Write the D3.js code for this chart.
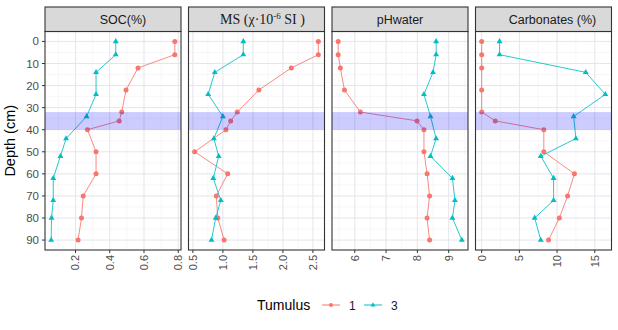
<!DOCTYPE html>
<html>
<head>
<meta charset="utf-8">
<script src="https://cdn.jsdelivr.net/npm/d3@7"></script>
<style>
  body { margin: 0; background: #fff; }
  text { font-family: "Liberation Sans", Arial, sans-serif; }
</style>
</head>
<body>
<div id="canvas"></div>
<script>
"use strict"

/* Depths (cm) sampled in each tumulus */
let depth1 = [0, 6, 12, 22, 32, 36, 40, 50, 60, 70, 80, 90];
let depth3 = [0, 6, 14, 24, 34, 44, 52, 62, 72, 80, 90];

let soc1 = [0.78, 0.78, 0.565, 0.495, 0.47, 0.455, 0.27, 0.32, 0.32, 0.245, 0.235, 0.215];
let soc3 = [0.435, 0.435, 0.32, 0.32, 0.265, 0.145, 0.112, 0.07, 0.07, 0.06, 0.058];

let ms1 = [2.59, 2.59, 2.14, 1.6, 1.24, 1.13, 1.05, 0.53, 1.08, 0.89, 0.915, 1.02];
let ms3 = [1.34, 1.34, 0.865, 0.755, 1.0, 0.85, 0.93, 0.84, 0.965, 0.88, 0.81];

let ph1 = [5.47, 5.47, 5.54, 5.67, 6.18, 7.99, 8.21, 8.21, 8.31, 8.39, 8.31, 8.39];
let ph3 = [8.6, 8.6, 8.5, 8.21, 8.42, 8.6, 8.42, 9.12, 9.2, 9.12, 9.42];

let carb1 = [0, 0, 0, 0, 0, 1.8, 8.24, 8.24, 12.3, 11.4, 10.3, 8.87];
let carb3 = [2.37, 2.37, 13.8, 16.4, 12.2, 12.5, 7.84, 9.54, 9.54, 7.03, 7.84];

/* Tick labels */
let depthTicks = [0, 10, 20, 30, 40, 50, 60, 70, 80, 90];
let socTicks = [0.2, 0.4, 0.6, 0.8];
let msTicks = [0.5, 1.0, 1.5, 2.0, 2.5];
let phTicks = [6, 7, 8, 9];
let carbTicks = [0, 5, 10, 15];

let tumuli = ["1", "3"];
let bandDepth = [32, 40]; // highlighted layer

/* Drawing configuration */
let svgWidth = 618;
let svgHeight = 330;
let panelTop = 31.5, panelBottom = 250;
let panelLeft0 = 45, panelWidth = 136, panelStep = 143.5;
let stripTop = 7;

let colorScale = d3.scaleOrdinal()
    .domain(tumuli)
    .range(["#F8766D", "#00BFC4"]);

let svg = d3.select("#canvas")
    .append("svg")
    .attr("width", svgWidth)
    .attr("height", svgHeight);

/* ggplot-like 5% expansion */
function expand(ext) {
    let pad = (ext[1] - ext[0]) * 0.05;
    return [ext[0] - pad, ext[1] + pad];
}

let yScale = d3.scaleLinear()
    .domain(expand([0, 90]))
    .range([panelTop, panelBottom]);

let panels = [
    { name: "SOC(%)", t1: soc1, t3: soc3, ticks: socTicks, fmt: d3.format(".1f"), nudge: 10 },
    { name: "MS", t1: ms1, t3: ms3, ticks: msTicks, fmt: d3.format(".1f"), nudge: 6 },
    { name: "pHwater", t1: ph1, t3: ph3, ticks: phTicks, fmt: d3.format("d"), nudge: 0 },
    { name: "Carbonates (%)", t1: carb1, t3: carb3, ticks: carbTicks, fmt: d3.format("d"), nudge: 9 }
];

// minor breaks halfway between major ones
function minorBreaks(ticks, domain) {
    let step = ticks[1] - ticks[0];
    let out = [];
    for (let i = -1; i < ticks.length; i++) {
        let m = ticks[0] + step * (i + 0.5);
        if (m > domain[0] && m < domain[1]) out.push(m);
    }
    return out;
}

let yMinor = minorBreaks(depthTicks, yScale.domain());

panels.forEach((p, i) => {
    let x0 = panelLeft0 + i * panelStep;
    let x1 = x0 + panelWidth;
    let all = p.t1.concat(p.t3);
    let xScale = d3.scaleLinear()
        .domain(expand(d3.extent(all)))
        .range([x0, x1]);

    let g = svg.append("g");

    // panel background + grid
    g.append("rect")
        .attr("x", x0).attr("y", panelTop)
        .attr("width", panelWidth).attr("height", panelBottom - panelTop)
        .attr("fill", "white");

    let xMinor = minorBreaks(p.ticks, xScale.domain());
    g.selectAll("line.xminor")
        .data(xMinor)
        .join("line")
        .attr("x1", d => xScale(d)).attr("x2", d => xScale(d))
        .attr("y1", panelTop).attr("y2", panelBottom)
        .attr("stroke", "#f1f1f6").attr("stroke-width", 0.6);
    g.selectAll("line.yminor")
        .data(yMinor)
        .join("line")
        .attr("x1", x0).attr("x2", x1)
        .attr("y1", d => yScale(d)).attr("y2", d => yScale(d))
        .attr("stroke", "#f1f1f6").attr("stroke-width", 0.6);
    g.selectAll("line.xmajor")
        .data(p.ticks)
        .join("line")
        .attr("x1", d => xScale(d)).attr("x2", d => xScale(d))
        .attr("y1", panelTop).attr("y2", panelBottom)
        .attr("stroke", "#e5e5ec").attr("stroke-width", 1);
    g.selectAll("line.ymajor")
        .data(depthTicks)
        .join("line")
        .attr("x1", x0).attr("x2", x1)
        .attr("y1", d => yScale(d)).attr("y2", d => yScale(d))
        .attr("stroke", "#e5e5ec").attr("stroke-width", 1);

    // profiles
    let series = [
        { t: "1", depth: depth1, vals: p.t1 },
        { t: "3", depth: depth3, vals: p.t3 }
    ];
    series.forEach(s => {
        let pts = s.depth.map((d, k) => [xScale(s.vals[k]), yScale(d)]);
        g.append("path")
            .attr("d", d3.line()(pts))
            .attr("fill", "none")
            .attr("stroke", colorScale(s.t))
            .attr("stroke-opacity", 0.85)
            .attr("stroke-width", 1);
        if (s.t === "1") {
            g.selectAll(null)
                .data(pts)
                .join("circle")
                .attr("cx", d => d[0]).attr("cy", d => d[1])
                .attr("r", 2.5)
                .attr("fill", colorScale(s.t));
        } else {
            g.selectAll(null)
                .data(pts)
                .join("path")
                .attr("d", d3.symbol(d3.symbolTriangle, 15))
                .attr("transform", d => "translate(" + d[0] + "," + d[1] + ")")
                .attr("fill", colorScale(s.t));
        }
    });

    // highlighted depth band, drawn over the data
    g.append("rect")
        .attr("x", x0).attr("y", yScale(bandDepth[0]))
        .attr("width", panelWidth)
        .attr("height", yScale(bandDepth[1]) - yScale(bandDepth[0]))
        .attr("fill", "blue")
        .attr("fill-opacity", 0.2);

    // panel border
    g.append("rect")
        .attr("x", x0).attr("y", panelTop)
        .attr("width", panelWidth).attr("height", panelBottom - panelTop)
        .attr("fill", "none")
        .attr("stroke", "#333").attr("stroke-width", 1.1);

    // strip
    g.append("rect")
        .attr("x", x0).attr("y", stripTop)
        .attr("width", panelWidth).attr("height", panelTop - stripTop)
        .attr("fill", "#d9d9d9")
        .attr("stroke", "#333").attr("stroke-width", 1.1);

    let cx = (x0 + x1) / 2 + p.nudge;
    if (p.name === "MS") {
        let t = g.append("text")
            .attr("x", cx).attr("y", 24)
            .attr("text-anchor", "middle")
            .style("font-family", "'Liberation Serif', 'Times New Roman', serif")
            .style("font-size", "14px")
            .attr("fill", "#1a1a1a");
        t.append("tspan").text("MS (\u03C7\u00B710");
        t.append("tspan").attr("dy", -5).style("font-size", "9px").text("-6");
        t.append("tspan").attr("dy", 5).text(" SI )");
    } else {
        g.append("text")
            .attr("x", cx).attr("y", 24)
            .attr("text-anchor", "middle")
            .style("font-size", "12.5px")
            .attr("fill", "#1a1a1a")
            .text(p.name);
    }

    // x ticks + rotated labels
    g.selectAll("line.xtick")
        .data(p.ticks)
        .join("line")
        .attr("x1", d => xScale(d)).attr("x2", d => xScale(d))
        .attr("y1", panelBottom).attr("y2", panelBottom + 3)
        .attr("stroke", "#333");
    g.selectAll("text.xlab")
        .data(p.ticks)
        .join("text")
        .attr("transform", d => "translate(" + xScale(d) + "," + (panelBottom + 5) + ") rotate(-90)")
        .attr("text-anchor", "end")
        .attr("dy", "0.35em")
        .style("font-size", "11px")
        .attr("fill", "#4d4d4d")
        .text(d => p.fmt(d));
});

/* y axis on the first panel */
svg.selectAll("line.ytick")
    .data(depthTicks)
    .join("line")
    .attr("x1", panelLeft0 - 3).attr("x2", panelLeft0)
    .attr("y1", d => yScale(d)).attr("y2", d => yScale(d))
    .attr("stroke", "#333");

svg.selectAll("text.ylab")
    .data(depthTicks)
    .join("text")
    .attr("x", panelLeft0 - 6)
    .attr("y", d => yScale(d))
    .attr("dy", "0.35em")
    .attr("text-anchor", "end")
    .style("font-size", "11.5px")
    .attr("fill", "#4d4d4d")
    .text(d => d);

svg.append("text")
    .attr("transform", "translate(15," + ((panelTop + panelBottom) / 2) + ") rotate(-90)")
    .attr("text-anchor", "middle")
    .style("font-size", "14.5px")
    .attr("fill", "black")
    .text("Depth (cm)");

/**** Legend ****/
let legend = svg.append("g")
    .attr("transform", "translate(257,305)");

legend.append("text")
    .attr("x", 0).attr("y", 5)
    .style("font-size", "14px")
    .attr("fill", "black")
    .text("Tumulus");

let keyX = [65, 107];
tumuli.forEach((t, i) => {
    let kx = keyX[i];
    legend.append("line")
        .attr("x1", kx).attr("x2", kx + 18)
        .attr("y1", 0).attr("y2", 0)
        .attr("stroke", colorScale(t))
        .attr("stroke-width", 1);
    if (t === "1") {
        legend.append("circle")
            .attr("cx", kx + 9).attr("cy", 0).attr("r", 2)
            .attr("fill", colorScale(t));
    } else {
        legend.append("path")
            .attr("d", d3.symbol(d3.symbolTriangle, 10))
            .attr("transform", "translate(" + (kx + 9) + ",0)")
            .attr("fill", colorScale(t));
    }
    legend.append("text")
        .attr("x", kx + 27).attr("y", 4.5)
        .style("font-size", "12px")
        .attr("fill", "#1a1a1a")
        .text(t);
});
</script>
</body>
</html>
